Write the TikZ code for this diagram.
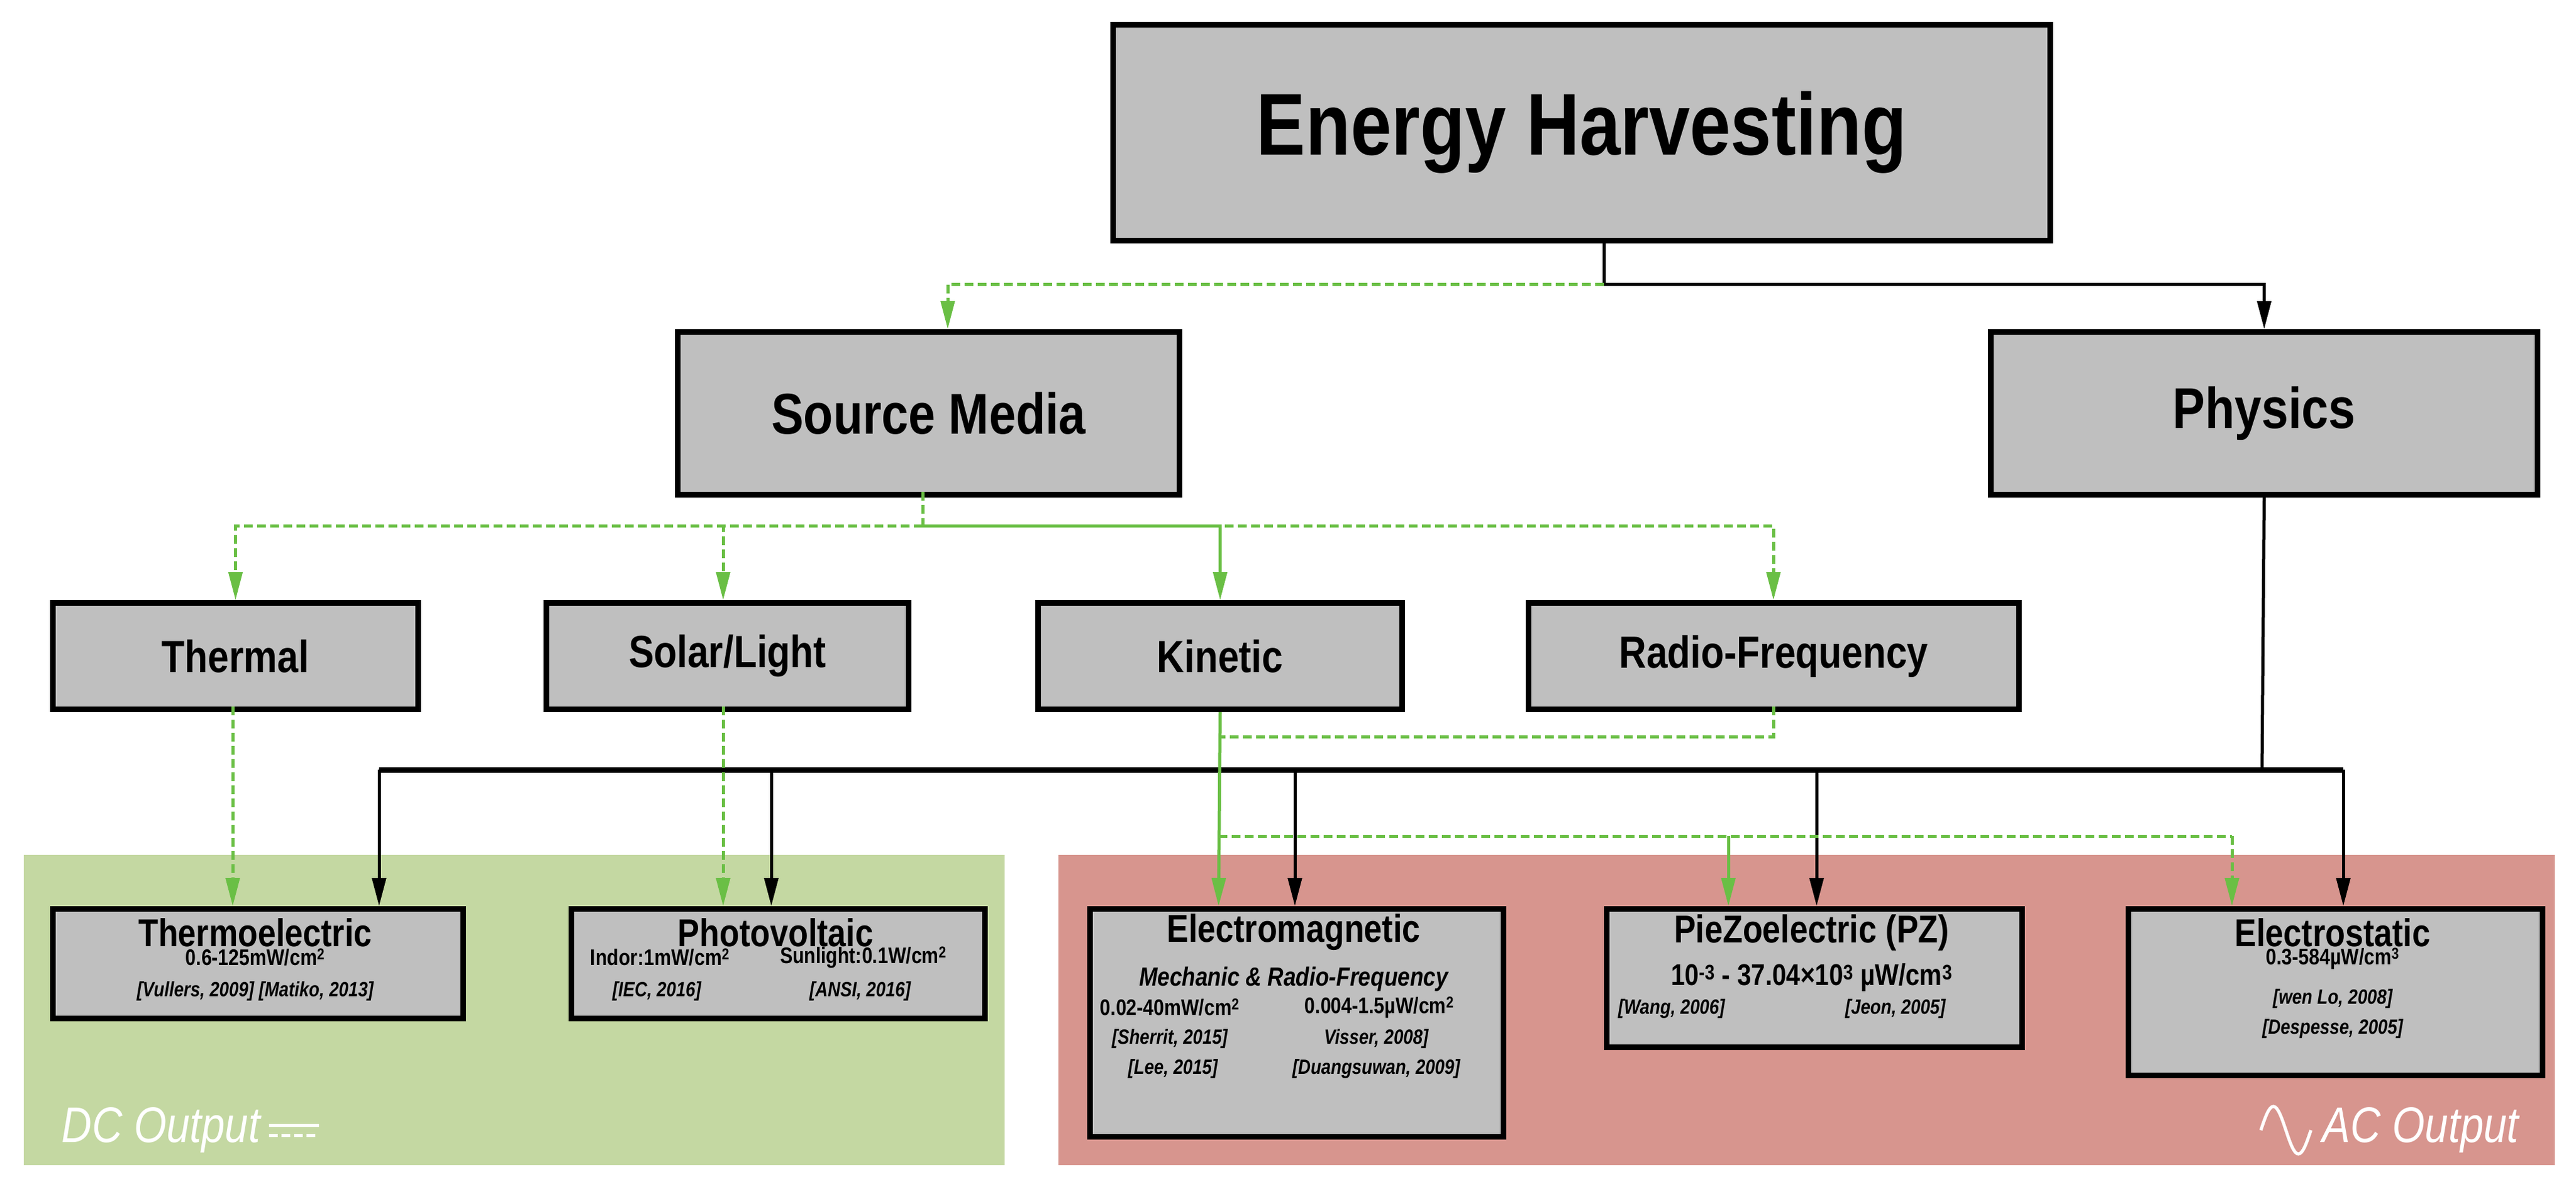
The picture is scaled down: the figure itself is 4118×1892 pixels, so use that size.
\documentclass[tikz,border=0pt]{standalone}
\usepackage{fontspec}
\setmainfont{Liberation Sans}[FakeStretch=0.84]
\usetikzlibrary{arrows.meta}
\definecolor{grn}{HTML}{6ABF45}
\definecolor{boxg}{HTML}{BFBFBF}
\definecolor{dcg}{HTML}{C4D8A2}
\definecolor{acr}{HTML}{D7958E}
\newcommand{\fs}[1]{\fontsize{#1}{#1}\selectfont}
\newcommand{\sps}[1]{\textsuperscript{#1}}
\begin{document}
\begin{tikzpicture}[x=1pt,y=-1pt,
  box/.style={draw=black,fill=boxg,line width=9pt,inner sep=0pt,anchor=north west},
  blk/.style={draw=black,line width=5pt},
  gd/.style={draw=grn,line width=5pt,dash pattern=on 14pt off 7pt},
  gs/.style={draw=grn,line width=5pt},
  tipb/.style={-{Triangle[length=45pt,width=22pt]}},
  tipg/.style={-{Triangle[length=45pt,width=22pt,fill=grn]}},
  lab/.style={font=\bfseries\fs{36}},
  cit/.style={font=\bfseries\itshape\fs{33}}]
\useasboundingbox (0,0) rectangle (4118,1892);
% output regions
\fill[dcg] (38,1366) rectangle (1606,1862);
\fill[acr] (1692,1366) rectangle (4084,1862);
% top nodes
\node[box,minimum width=1498pt,minimum height=345pt] (eh) at (1775,35) {};
\node[font=\bfseries\fs{140}] (ehT) at (eh.center) {Energy Harvesting};
\node[box,minimum width=802pt,minimum height=260pt] (sm) at (1079,526) {};
\node[font=\bfseries\fs{92}] at (sm.center) {Source Media};
\node[box,minimum width=874pt,minimum height=260pt] (ph) at (3178,526) {};
\node[font=\bfseries\fs{92}] at (ph.center) {Physics};
% source nodes
\node[box,minimum width=584pt,minimum height=170pt] (th) at (80,959) {};
\node[font=\bfseries\fs{72}] at (th.center) {Thermal};
\node[box,minimum width=579pt,minimum height=170pt] (so) at (869,959) {};
\node[font=\bfseries\fs{72}] at (so.center) {Solar/Light};
\node[box,minimum width=582pt,minimum height=170pt] (ki) at (1655,959) {};
\node[font=\bfseries\fs{72}] at (ki.center) {Kinetic};
\node[box,minimum width=784pt,minimum height=170pt] (rf) at (2439,959) {};
\node[font=\bfseries\fs{72}] at (rf.center) {Radio-Frequency};
% harvester nodes
\node[box,minimum width=656pt,minimum height=175pt] (te) at (80,1448) {};
\node[box,minimum width=661pt,minimum height=175pt] (pv) at (909,1448) {};
\node[box,minimum width=661pt,minimum height=364pt] (em) at (1738,1448) {};
\node[box,minimum width=664pt,minimum height=221pt] (pz) at (2564,1448) {};
\node[box,minimum width=662pt,minimum height=266pt] (es) at (3398,1448) {};
% texts
\node[font=\bfseries\fs{62}] (teT) at (408,1490) {Thermoelectric};
\node[lab] at (408,1530) {0.6-125mW/cm\sps{2}};
\node[cit] at (408,1584) {[\textit{Vullers}, 2009] [\textit{Matiko}, 2013]};
\node[font=\bfseries\fs{62}] (pvT) at (1240,1490) {Photovoltaic};
\node[lab] at (1055,1530) {Indor:1mW/cm\sps{2}};
\node[lab] at (1380,1530) {Sunlight:0.1W/cm\sps{2}};
\node[cit] at (1050,1584) {[\textit{IEC}, 2016]};
\node[cit] at (1375,1584) {[\textit{ANSI}, 2016]};
\node[font=\bfseries\fs{62}] (emT) at (2068,1490) {Electromagnetic};
\node[font=\bfseries\itshape\fs{42}] at (2068,1565) {Mechanic \& Radio-Frequency};
\node[lab] at (1870,1610) {0.02-40mW/cm\sps{2}};
\node[lab] at (2205,1610) {0.004-1.5µW/cm\sps{2}};
\node[cit] at (1870,1660) {[Sherrit, 2015]};
\node[cit] at (2200,1660) {Visser, 2008]};
\node[cit] at (1875,1708) {[Lee, 2015]};
\node[cit] at (2200,1708) {[Duangsuwan, 2009]};
\node[font=\bfseries\fs{62}] (pzT) at (2896,1490) {PieZoelectric (PZ)};
\node[font=\bfseries\fs{48}] at (2896,1562) {10\sps{-3} - 37.04×10\sps{3} µW/cm\sps{3}};
\node[cit] at (2672,1612) {[Wang, 2006]};
\node[cit] at (3030,1612) {[Jeon, 2005]};
\node[font=\bfseries\fs{62}] (esT) at (3729,1490) {Electrostatic};
\node[lab] at (3729,1532) {0.3-584µW/cm\sps{3}};
\node[cit] at (3729,1596) {[wen Lo, 2008]};
\node[cit] at (3729,1644) {[Despesse, 2005]};
% output labels
\node[font=\itshape\fs{80},text=white,anchor=west] (dc) at (95,1806) {DC Output};
\draw[white,line width=5pt] (dc.east) ++(10,-8) coordinate (dca) -- ++(80,0);
\draw[white,line width=5pt,dash pattern=on 14pt off 6pt] (dca) ++(0,16) -- ++(80,0);
\node[font=\itshape\fs{80},text=white,anchor=east] (ac) at (4030,1806) {AC Output};
\draw[white,line width=5pt] (ac.west) ++(-95,0) sin ++(20,-38) cos ++(20,38) sin ++(20,38) cos ++(20,-38);
% connectors top
\coordinate (j1) at (2564,454);
\draw[blk] (2564,380) -- (j1);
\draw[gd,tipg] (j1) -| (1515,526);
\draw[blk,tipb] (j1) -| (ph.north);
\coordinate (j2) at (1475,840);
\draw[gd] (1475,786) -- (j2);
\draw[gd,tipg] (j2) -| (th.north);
\draw[gd,tipg] (j2) -| (1156,959);
\draw[gs,tipg] (j2) -| (ki.north);
\draw[gd,tipg] (j2) -| (2835,959);
% physics bus
\coordinate (j3) at (3616,1230);
\draw[blk] (ph.south) -- (j3);
\draw[blk,line width=9pt] (606,1230) -- (3746,1230);
\draw[blk,tipb] (606,1230) -- (606,1448);
\draw[blk,tipb] (1233,1230) -- (1233,1448);
\draw[blk,tipb] (2070,1230) -- (2070,1448);
\draw[blk,tipb] (2904,1230) -- (2904,1448);
\draw[blk,tipb] (3746,1230) -- (3746,1448);
% source to harvesters
\draw[gd,tipg] (372,1129) -- (372,1448);
\draw[gd,tipg] (1156,1129) -- (1156,1448);
\draw[gs,tipg] (ki.south) -- (1948,1448);
\draw[gd] (2835,1129) |- (1948,1177);
\draw[gd] (1948,1336) -- (3568,1336);
\draw[gd,tipg] (3568,1336) -- (3568,1448);
\draw[gs,tipg] (2763,1336) -- (2763,1448);
\end{tikzpicture}
\end{document}
